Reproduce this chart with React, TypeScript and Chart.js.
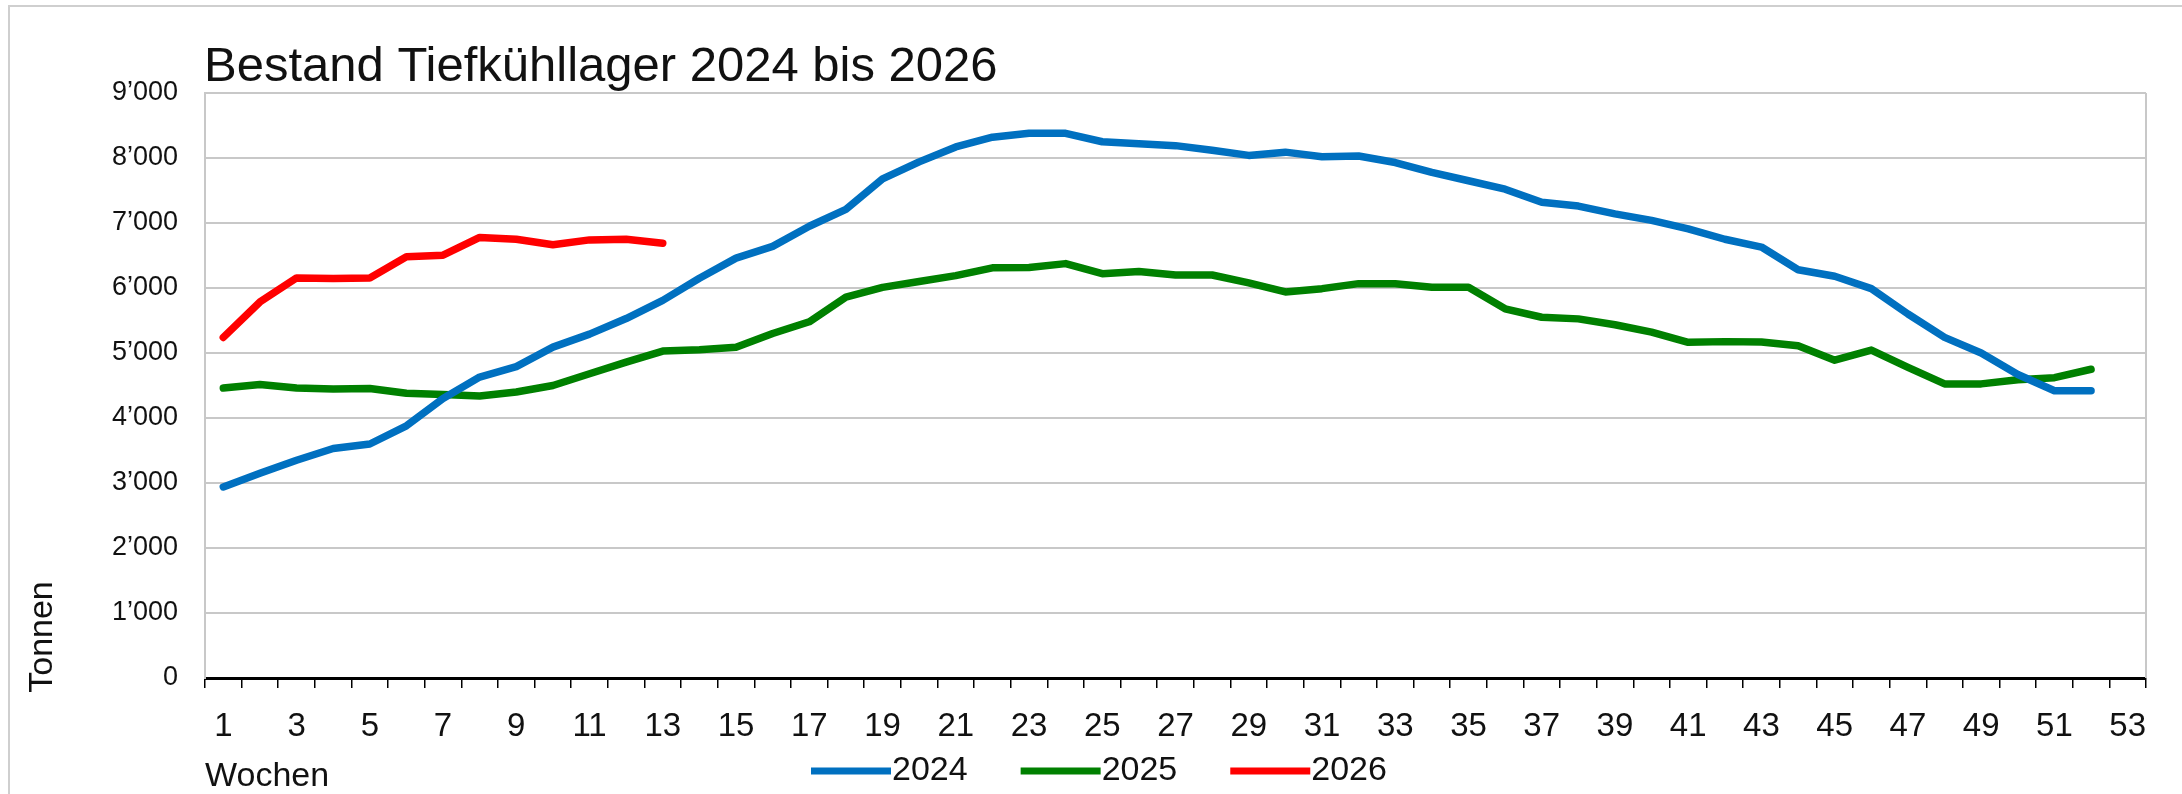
import React, { useEffect, useRef } from "react";
import { Chart, registerables } from "chart.js";

Chart.register(...registerables);

const weekLabels = [
  "1", "2", "3", "4", "5", "6", "7", "8", "9", "10",
  "11", "12", "13", "14", "15", "16", "17", "18", "19", "20",
  "21", "22", "23", "24", "25", "26", "27", "28", "29", "30",
  "31", "32", "33", "34", "35", "36", "37", "38", "39", "40",
  "41", "42", "43", "44", "45", "46", "47", "48", "49", "50",
  "51", "52", "53",
];

const yMin = 0;
const yMax = 9000;
const yStep = 1000;

const values2024 = [
  2940, 3150, 3350, 3530, 3600, 3880, 4300, 4630, 4790, 5090,
  5290, 5530, 5810, 6150, 6460, 6640, 6950, 7210, 7680, 7940,
  8170, 8320, 8380, 8380, 8250, 8220, 8190, 8120, 8040, 8090,
  8020, 8030, 7930, 7780, 7650, 7520, 7320, 7260, 7140, 7040,
  6910, 6750, 6630, 6280, 6180, 5990, 5600, 5240, 5000, 4670,
  4420, 4420,
];

const values2025 = [
  4460, 4515, 4460, 4445, 4455, 4380, 4360, 4340, 4400, 4500,
  4680, 4860, 5030, 5050, 5090, 5300, 5480, 5860, 6010, 6100,
  6190, 6310, 6315, 6375, 6220, 6255, 6200, 6200, 6080, 5940,
  5990, 6067, 6067, 6010, 6010, 5680, 5550, 5525, 5435, 5320,
  5165, 5175, 5170, 5110, 4890, 5045, 4780, 4525, 4525, 4590,
  4620, 4750,
];

const values2026 = [
  5240, 5785, 6155, 6145, 6155, 6480, 6505, 6778, 6750, 6665,
  6740, 6750, 6690,
];

const seriesNames = ["2024", "2025", "2026"];
const seriesColors = ["#0070C0", "#008000", "#FF0000"];
const seriesValues = [values2024, values2025, values2026];

const titleText = "Bestand Tiefkühllager 2024 bis 2026";
const yAxisTitle = "Tonnen";
const xAxisTitle = "Wochen";

const FONT = "'Liberation Sans', Arial, Helvetica, sans-serif";
const TEXT = "#111111";
const GRID = "#c8c8c8";

function fmtThousands(v: number): string {
  if (v < 1000) return String(v);
  const th = Math.floor(v / 1000);
  const rest = String(v % 1000).padStart(3, "0");
  return `${th}\u2019${rest}`;
}

const decorPlugin = {
  id: "decor",
  afterDraw(chart: any) {
    const { ctx, chartArea } = chart;
    ctx.save();
    // right border of plot area
    ctx.strokeStyle = GRID;
    ctx.lineWidth = 2;
    ctx.beginPath();
    ctx.moveTo(chartArea.right, chartArea.top);
    ctx.lineTo(chartArea.right, chartArea.bottom);
    ctx.stroke();

    // title
    ctx.fillStyle = TEXT;
    ctx.font = `49px ${FONT}`;
    ctx.textAlign = "left";
    ctx.textBaseline = "alphabetic";
    ctx.fillText(titleText, chartArea.left - 1, 81);

    // y axis title (rotated)
    ctx.save();
    ctx.translate(43, 637);
    ctx.rotate(-Math.PI / 2);
    ctx.font = `34px ${FONT}`;
    ctx.textAlign = "center";
    ctx.textBaseline = "middle";
    ctx.fillText(yAxisTitle, 0, 0);
    ctx.restore();

    // x axis title
    ctx.font = `34px ${FONT}`;
    ctx.textAlign = "left";
    ctx.textBaseline = "middle";
    ctx.fillText(xAxisTitle, chartArea.left, 777);

    // legend
    let x = 811;
    const ly = 771;
    const lineLen = 80;
    const gap = 53;
    ctx.font = `34px ${FONT}`;
    for (let i = 0; i < seriesNames.length; i++) {
      ctx.strokeStyle = seriesColors[i];
      ctx.lineWidth = 7;
      ctx.lineCap = "butt";
      ctx.beginPath();
      ctx.moveTo(x, ly);
      ctx.lineTo(x + lineLen, ly);
      ctx.stroke();
      ctx.fillStyle = TEXT;
      ctx.textAlign = "left";
      ctx.textBaseline = "middle";
      ctx.fillText(seriesNames[i], x + lineLen + 1, ly);
      const w = ctx.measureText(seriesNames[i]).width;
      x += lineLen + 1 + w + gap;
    }
    ctx.restore();
  },
};

export default function App() {
  const canvasRef = useRef<HTMLCanvasElement | null>(null);

  useEffect(() => {
    const canvas = canvasRef.current;
    if (!canvas) return;
    const chart = new Chart(canvas, {
      type: "line",
      data: {
        labels: weekLabels,
        datasets: seriesNames.map((name, i) => ({
          label: name,
          data: seriesValues[i],
          borderColor: seriesColors[i],
          backgroundColor: seriesColors[i],
          borderWidth: 7.5,
          pointRadius: 0,
          pointHoverRadius: 0,
          tension: 0,
          fill: false,
          borderCapStyle: "round",
          borderJoinStyle: "round",
        })),
      },
      options: {
        responsive: false,
        maintainAspectRatio: false,
        animation: false,
        devicePixelRatio: 1,
        events: [],
        layout: { padding: { top: 93, right: 36, left: 0, bottom: 0 } },
        plugins: {
          legend: { display: false },
          title: { display: false },
          tooltip: { enabled: false },
        },
        scales: {
          x: {
            type: "category",
            offset: true,
            grid: {
              offset: true,
              drawOnChartArea: false,
              drawTicks: true,
              tickLength: 10,
              color: "#000",
              lineWidth: 1.5,
            },
            border: { display: true, color: "#000", width: 3 },
            ticks: {
              autoSkip: false,
              maxRotation: 0,
              minRotation: 0,
              padding: 19,
              color: TEXT,
              font: { family: FONT, size: 33 },
              callback: (_v: any, i: number) => (i % 2 === 0 ? weekLabels[i] : ""),
            },
            afterFit: (s: any) => {
              s.height = 116;
            },
          },
          y: {
            min: yMin,
            max: yMax,
            ticks: {
              stepSize: yStep,
              padding: 27,
              color: TEXT,
              font: { family: FONT, size: 27 },
              callback: (v: any) => fmtThousands(Number(v)),
            },
            grid: {
              color: (c: any) => (c.tick && c.tick.value === 0 ? "rgba(0,0,0,0)" : GRID),
              lineWidth: 2,
              drawTicks: false,
            },
            border: { display: true, color: GRID, width: 2 },
            afterFit: (s: any) => {
              s.width = 205;
            },
          },
        },
      },
      plugins: [decorPlugin],
    } as any);
    return () => chart.destroy();
  }, []);

  return (
    <div style={{ position: "fixed", left: 0, top: 0, width: 2182, height: 794, background: "#fff" }}>
      <canvas
        ref={canvasRef}
        width={2182}
        height={794}
        style={{ position: "absolute", left: 0, top: 0, width: 2182, height: 794 }}
      />
      <div
        style={{
          position: "absolute",
          left: 8,
          top: 5,
          right: 0,
          bottom: 0,
          borderLeft: "2px solid #cfcfcf",
          borderTop: "2px solid #cfcfcf",
          pointerEvents: "none",
        }}
      />
    </div>
  );
}
